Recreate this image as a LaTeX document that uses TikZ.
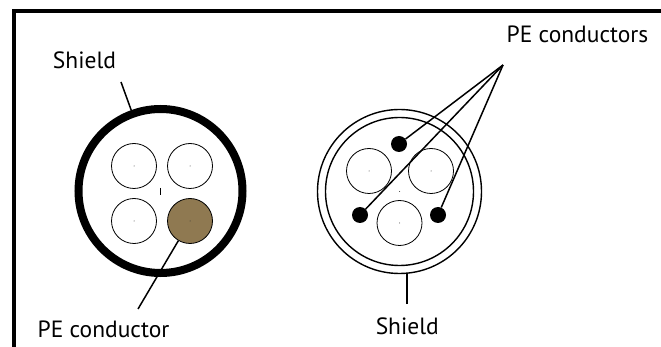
\documentclass[tikz,border=0pt]{standalone}
\usepackage{fontspec}
\setmainfont{PT Sans}
\definecolor{pebrown}{HTML}{8F7951}
\tikzset{
  corebox/.style={draw,circle,line width=.8pt,minimum size=45pt,inner sep=0pt},
  pedot/.style={circle,fill=black,minimum size=16pt,inner sep=0pt},
  tickdot/.style={circle,fill=black!80,minimum size=1pt,inner sep=0pt},
  textlabel/.style={font=\fontsize{23.5}{26}\selectfont,inner sep=0pt},
  leader/.style={line width=1.5pt}
}
\begin{document}
\begin{tikzpicture}[x=1pt,y=-1pt]
\useasboundingbox (0,0) rectangle (661,347);

% frame
\draw[line width=3.5pt] (14,347) -- (14,11) -- (661,11);

% left cable
\node[draw,circle,line width=8pt,minimum size=164pt,inner sep=0pt] (shieldL) at (160.5,191) {};
\node[corebox] (coreA) at (134,166) {};
\node[corebox] (coreB) at (190,166) {};
\node[corebox] (coreC) at (134,221) {};
\node[corebox,fill=pebrown] (coreD) at (190,221) {};
\foreach \n in {coreA,coreB,coreC,coreD}
  \node[tickdot] at (\n) {};
\draw[line width=.8pt] (160.5,188) -- (160.5,195);

\node[textlabel] (shieldtextL) at (84.5,60) {Shield};
\node[textlabel] (petext) at (103.5,329.5) {PE conductor};
\coordinate (shieldendL) at (121,82);
\coordinate (peend) at (138,309);
\draw[leader] (shieldendL) -- (shieldL);
\draw[leader] (peend) -- (coreD);

% right cable
\node[draw,circle,line width=1.4pt,minimum size=164pt,inner sep=0pt] (shieldR) at (399.5,191.5) {};
\node[draw,circle,line width=1.4pt,minimum size=148pt,inner sep=0pt] (innerR) at (399.5,191.5) {};
\node[corebox] (coreE) at (369,171) {};
\node[corebox] (coreF) at (431,171) {};
\node[corebox] (coreG) at (399.5,223) {};
\foreach \n in {coreE,coreF,coreG,innerR}
  \node[tickdot] at (\n) {};
\node[pedot] (dotA) at (399,144) {};
\node[pedot] (dotB) at (360,215) {};
\node[pedot] (dotC) at (438,215) {};

\node[textlabel] (petextR) at (577.5,34) {PE conductors};
\node[textlabel] (shieldtextR) at (407.3,326.5) {Shield};
\coordinate (apex) at (503,65);
\coordinate (shieldendR) at (407,304);
\draw[leader] (apex) -- (dotA);
\draw[leader] (apex) -- (dotB);
\draw[leader] (apex) -- (dotC);
\draw[leader] (shieldendR) -- (407,273);
\end{tikzpicture}
\end{document}
